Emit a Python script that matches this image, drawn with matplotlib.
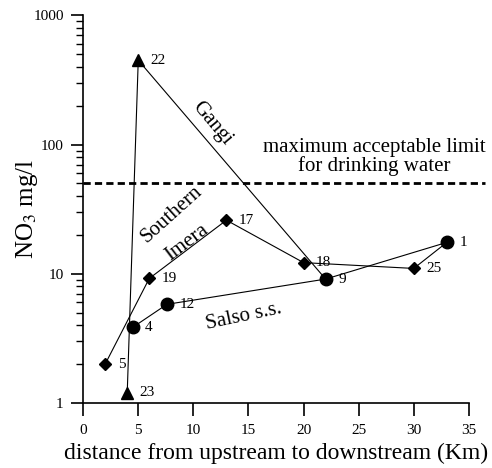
import matplotlib.pyplot as plt
from matplotlib.ticker import FixedLocator, LogLocator, NullFormatter

plt.rcParams["font.family"] = ["Liberation Serif", "DejaVu Serif"]
plt.rcParams["mathtext.fontset"] = "stix"

# Salso s.s. (circles)
salso_x = [4.5, 7.6, 22.0, 33.0]
salso_y = [3.85, 5.8, 9.1, 17.5]
salso_id = ["4", "12", "9", "1"]

# Southern Imera (diamonds), ends at the Salso confluence (site 1)
imera_x = [2.0, 6.0, 13.0, 20.0, 30.0, 33.0]
imera_y = [2.0, 9.2, 26.0, 12.2, 11.0, 17.5]
imera_id = ["5", "19", "17", "18", "25"]

# Gangi (triangles), ends at site 9
gangi_x = [4.0, 5.0, 22.0]
gangi_y = [1.2, 450.0, 9.1]
gangi_id = ["23", "22"]

limit_no3 = 50.0

fig = plt.figure(figsize=(4.92, 4.68), dpi=100)
ax = fig.add_axes([0.169, 0.139, 0.784, 0.828])

ax.plot(gangi_x, gangi_y, "-", color="black", lw=0.8)
ax.plot(gangi_x[:2], gangi_y[:2], "^", color="black", ms=8)
ax.plot(imera_x, imera_y, "-", color="black", lw=0.8)
ax.plot(imera_x[:5], imera_y[:5], "D", color="black", ms=6)
ax.plot(salso_x, salso_y, "-o", color="black", lw=0.8, ms=9)

# site numbers next to each point
for xs, ys, ids in [(salso_x, salso_y, salso_id),
                    (imera_x, imera_y, imera_id),
                    (gangi_x, gangi_y, gangi_id)]:
    for x, y, s in zip(xs, ys, ids):
        ax.annotate(s, (x, y), xytext=(9, 0), textcoords="offset points",
                    va="center", ha="left", fontsize=11)

# drinking water limit
ax.plot([0, 36.5], [limit_no3, limit_no3], color="black", lw=2,
        dashes=(2.6, 1.5), clip_on=False)
ax.text(26.4, 80, "maximum acceptable limit\nfor drinking water",
        ha="center", va="center", fontsize=15, linespacing=0.95)

# river names
ax.text(11.7, 145, "Gangi", rotation=-50, ha="center", va="center", fontsize=15)
ax.text(8.05, 28.8, "Southern", rotation=42, ha="center", va="center", fontsize=15)
ax.text(9.4, 17.5, "Imera", rotation=37, ha="center", va="center", fontsize=15)
ax.text(14.6, 4.7, "Salso s.s.", rotation=12, ha="center", va="center", fontsize=15)

ax.set_yscale("log")
ax.set_xlim(0, 35)
ax.set_ylim(1, 1000)
ax.set_xticks([0, 5, 10, 15, 20, 25, 30, 35])
ax.yaxis.set_major_locator(FixedLocator([1, 10, 100, 1000]))
ax.set_yticklabels(["1", "10", "100", "1000"])
ax.yaxis.set_minor_locator(LogLocator(base=10, subs=range(2, 10)))
ax.yaxis.set_minor_formatter(NullFormatter())

for side in ["top", "right"]:
    ax.spines[side].set_visible(False)
for side in ["left", "bottom"]:
    ax.spines[side].set_linewidth(1.2)
ax.tick_params(which="major", length=9, width=1.2, labelsize=11, direction="out")
ax.tick_params(which="minor", length=5, width=1.0, direction="out")
ax.tick_params(axis="x", pad=6)
ax.tick_params(axis="y", pad=5)

ax.set_xlabel("distance from upstream to downstream (Km)", fontsize=17, labelpad=4)
ax.set_ylabel("NO$_3$ mg/l", fontsize=18, labelpad=-5)

fig.savefig("out.png", dpi=100)
